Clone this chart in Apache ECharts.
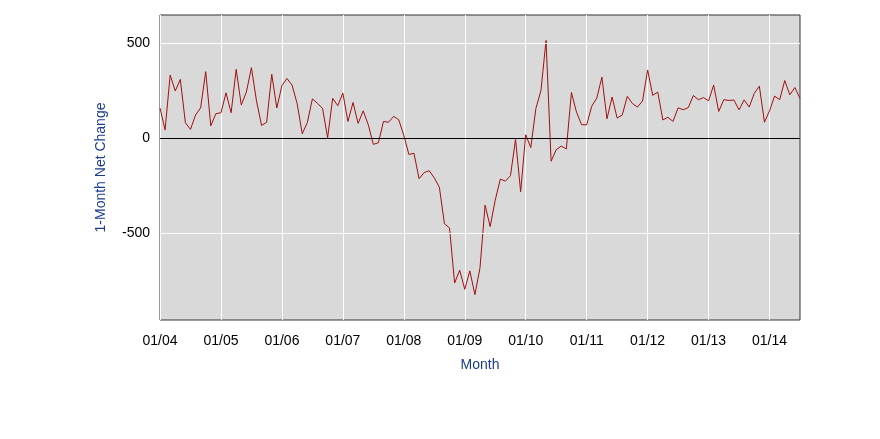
<!DOCTYPE html>
<html><head><meta charset="utf-8">
<script src="https://cdn.jsdelivr.net/npm/echarts@6/dist/echarts.min.js"></script>
<style>html,body{margin:0;padding:0;background:#fff}#c{width:880px;height:439px}</style>
</head><body><div id="c"></div>
<script>
const values = [
159,43,333,249,310,81,46,122,160,351,65,129,
134,239,134,363,175,243,372,196,67,84,337,159,
277,315,280,182,23,82,207,184,157,2,210,171,
238,88,188,78,144,71,-33,-24,88,84,115,97,
15,-86,-80,-214,-182,-172,-210,-259,-452,-474,-765,-697,
-798,-701,-826,-684,-354,-467,-327,-216,-227,-198,-6,-283,
18,-50,156,251,516,-122,-61,-42,-57,241,137,71,
70,168,212,322,102,217,106,122,221,183,164,196,
360,226,243,96,110,88,160,150,161,225,203,214,
197,280,141,203,199,201,149,202,164,237,274,84,
144,222,203,304,229,267,209];
const categories = values.map((v,i)=>{const m=i%12+1,y=4+Math.floor(i/12);return String(m).padStart(2,'0')+'/'+String(y).padStart(2,'0');});
const yTicks = [-500,0,500];
const ch = echarts.init(document.getElementById('c'));
ch.setOption({
  animation:false,
  grid:{left:160,right:80,top:15,bottom:119,show:true,backgroundColor:'#d9d9d9',borderColor:'#333',borderWidth:1},
  xAxis:{type:'category',data:categories,boundaryGap:false,
    axisLine:{show:false},axisTick:{show:false},
    axisLabel:{interval:(i)=>i%12===0,color:'#000',fontFamily:'Liberation Sans',fontSize:14,margin:14,formatter:v=>v.startsWith('01/')?v:''},
    splitLine:{show:true,interval:(i)=>i%12===0,lineStyle:{color:'#fff',width:1}},
    name:'Month',nameLocation:'middle',nameGap:38,nameTextStyle:{color:'#1a3d8f',fontFamily:'Liberation Sans',fontSize:14}},
  yAxis:{type:'value',min:-960,max:650,
    axisLine:{show:false},axisTick:{show:false},splitLine:{show:false},
    axisLabel:{customValues:yTicks,color:'#000',fontFamily:'Liberation Sans',fontSize:14,margin:10},
    name:'1-Month Net Change',nameLocation:'middle',nameGap:52,nameTextStyle:{color:'#1a3d8f',fontFamily:'Liberation Sans',fontSize:14}},
  series:[{type:'line',data:values,showSymbol:false,lineStyle:{color:'#a01010',width:1},
    markLine:{silent:true,symbol:'none',label:{show:false},
      data:[{yAxis:500,lineStyle:{color:'#fff',type:'solid',width:1}},{yAxis:-500,lineStyle:{color:'#fff',type:'solid',width:1}},{yAxis:0,lineStyle:{color:'#000',type:'solid',width:1}}]},
    z:3}]
});
</script></body></html>
